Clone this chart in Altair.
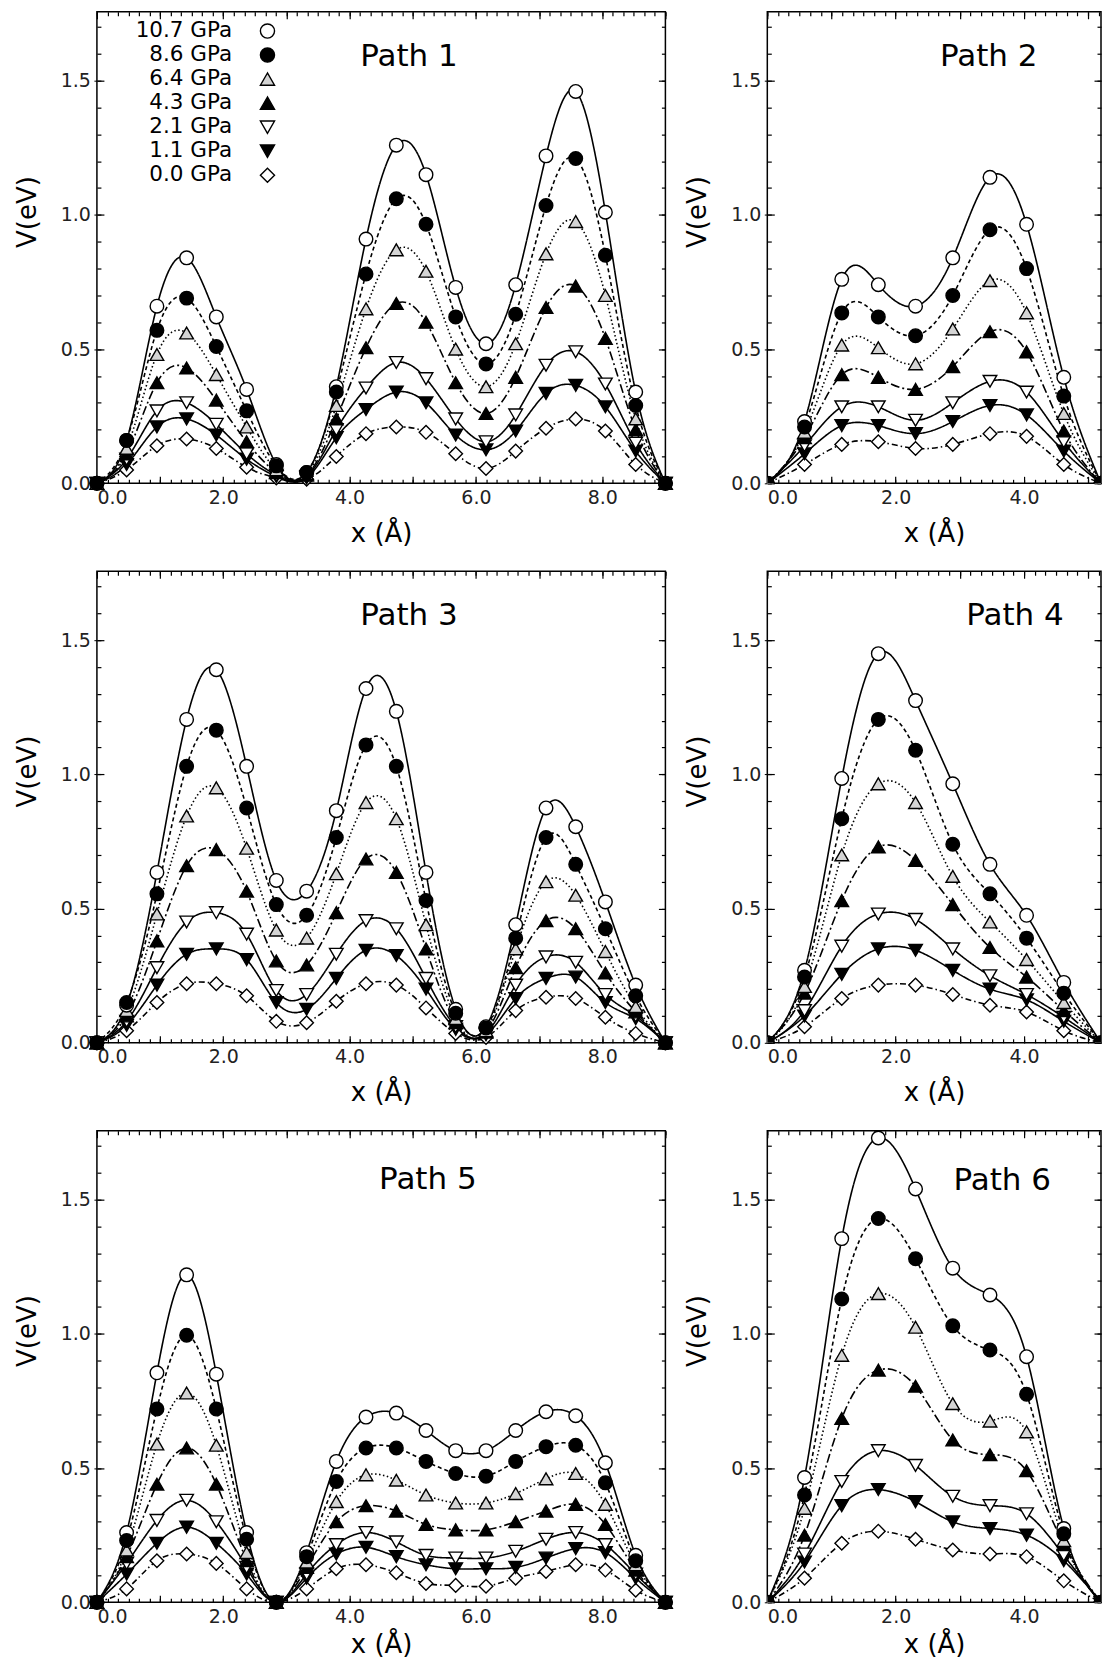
import altair as alt
import pandas as pd

FONT = "DejaVu Sans"
YMAX = 1.757

series = ["10.7 GPa", "8.6 GPa", "6.4 GPa", "4.3 GPa", "2.1 GPa", "1.1 GPa", "0.0 GPa"]
shapes = ["circle", "circle", "triangle-up", "triangle-up", "triangle-down", "triangle-down", "diamond"]
fills = ["white", "black", "#d4d4d4", "black", "white", "black", "white"]
dashes = [[1, 0], [4, 3], [1.5, 2.5], [9, 3, 2, 3], [1, 0], [1, 0], [6, 3, 1.5, 3]]
draw_order = ["0.0 GPa", "1.1 GPa", "2.1 GPa", "4.3 GPa", "6.4 GPa", "10.7 GPa", "8.6 GPa"]

x_long = [0.0, 0.47, 0.95, 1.42, 1.89, 2.37, 2.84, 3.32, 3.79, 4.26,
          4.74, 5.21, 5.68, 6.16, 6.63, 7.11, 7.58, 8.05, 8.53, 9.0]
x_short = [0.0, 0.58, 1.16, 1.73, 2.31, 2.89, 3.47, 4.04, 4.62, 5.2]

path1 = {
    "10.7 GPa": [0, 0.16, 0.66, 0.84, 0.62, 0.35, 0.07, 0.04, 0.36, 0.91, 1.26, 1.15, 0.73, 0.52, 0.74, 1.22, 1.46, 1.01, 0.34, 0],
    "8.6 GPa": [0, 0.16, 0.57, 0.69, 0.51, 0.27, 0.065, 0.04, 0.34, 0.78, 1.06, 0.965, 0.62, 0.445, 0.63, 1.035, 1.21, 0.85, 0.29, 0],
    "6.4 GPa": [0, 0.13, 0.48, 0.56, 0.405, 0.21, 0.05, 0.035, 0.29, 0.65, 0.87, 0.79, 0.50, 0.36, 0.52, 0.855, 0.975, 0.70, 0.24, 0],
    "4.3 GPa": [0, 0.11, 0.375, 0.43, 0.31, 0.155, 0.04, 0.03, 0.24, 0.505, 0.67, 0.60, 0.375, 0.26, 0.395, 0.655, 0.735, 0.54, 0.20, 0],
    "2.1 GPa": [0, 0.09, 0.27, 0.30, 0.22, 0.11, 0.03, 0.025, 0.20, 0.355, 0.45, 0.39, 0.24, 0.155, 0.255, 0.44, 0.49, 0.37, 0.15, 0],
    "1.1 GPa": [0, 0.07, 0.21, 0.24, 0.18, 0.09, 0.025, 0.02, 0.17, 0.275, 0.34, 0.30, 0.18, 0.125, 0.195, 0.335, 0.365, 0.285, 0.12, 0],
    "0.0 GPa": [0, 0.05, 0.14, 0.165, 0.13, 0.06, 0.02, 0.015, 0.10, 0.185, 0.21, 0.19, 0.11, 0.055, 0.12, 0.205, 0.24, 0.195, 0.07, 0],
}
path2 = {
    "10.7 GPa": [0, 0.23, 0.76, 0.74, 0.66, 0.84, 1.14, 0.965, 0.395, 0],
    "8.6 GPa": [0, 0.21, 0.635, 0.62, 0.55, 0.70, 0.945, 0.80, 0.325, 0],
    "6.4 GPa": [0, 0.19, 0.515, 0.505, 0.445, 0.575, 0.755, 0.635, 0.26, 0],
    "4.3 GPa": [0, 0.17, 0.405, 0.395, 0.35, 0.435, 0.565, 0.49, 0.195, 0],
    "2.1 GPa": [0, 0.14, 0.285, 0.285, 0.235, 0.30, 0.38, 0.34, 0.155, 0],
    "1.1 GPa": [0, 0.11, 0.215, 0.215, 0.185, 0.23, 0.29, 0.255, 0.12, 0],
    "0.0 GPa": [0, 0.07, 0.145, 0.155, 0.13, 0.145, 0.185, 0.175, 0.07, 0],
}
path3 = {
    "10.7 GPa": [0, 0.14, 0.635, 1.205, 1.39, 1.03, 0.605, 0.565, 0.865, 1.32, 1.235, 0.635, 0.125, 0.06, 0.44, 0.875, 0.805, 0.525, 0.215, 0],
    "8.6 GPa": [0, 0.15, 0.555, 1.03, 1.165, 0.875, 0.515, 0.475, 0.765, 1.11, 1.03, 0.53, 0.11, 0.055, 0.39, 0.765, 0.665, 0.425, 0.175, 0],
    "6.4 GPa": [0, 0.12, 0.48, 0.845, 0.95, 0.725, 0.42, 0.39, 0.63, 0.895, 0.835, 0.44, 0.09, 0.045, 0.35, 0.60, 0.55, 0.34, 0.135, 0],
    "4.3 GPa": [0, 0.10, 0.38, 0.66, 0.72, 0.565, 0.305, 0.29, 0.485, 0.685, 0.635, 0.35, 0.075, 0.04, 0.28, 0.455, 0.425, 0.26, 0.115, 0],
    "2.1 GPa": [0, 0.08, 0.28, 0.45, 0.485, 0.405, 0.195, 0.18, 0.33, 0.455, 0.425, 0.24, 0.06, 0.035, 0.215, 0.32, 0.30, 0.18, 0.10, 0],
    "1.1 GPa": [0, 0.065, 0.215, 0.33, 0.35, 0.31, 0.15, 0.125, 0.24, 0.345, 0.325, 0.20, 0.05, 0.03, 0.165, 0.24, 0.245, 0.15, 0.09, 0],
    "0.0 GPa": [0, 0.045, 0.15, 0.22, 0.22, 0.175, 0.08, 0.075, 0.155, 0.22, 0.215, 0.13, 0.035, 0.02, 0.12, 0.17, 0.165, 0.095, 0.035, 0],
}
path4 = {
    "10.7 GPa": [0, 0.27, 0.985, 1.45, 1.275, 0.965, 0.665, 0.475, 0.225, 0],
    "8.6 GPa": [0, 0.245, 0.835, 1.205, 1.09, 0.74, 0.555, 0.39, 0.185, 0],
    "6.4 GPa": [0, 0.21, 0.70, 0.965, 0.895, 0.62, 0.45, 0.31, 0.15, 0],
    "4.3 GPa": [0, 0.185, 0.53, 0.73, 0.68, 0.515, 0.355, 0.245, 0.12, 0],
    "2.1 GPa": [0, 0.12, 0.36, 0.48, 0.46, 0.35, 0.25, 0.18, 0.095, 0],
    "1.1 GPa": [0, 0.10, 0.255, 0.35, 0.345, 0.27, 0.20, 0.16, 0.08, 0],
    "0.0 GPa": [0, 0.06, 0.165, 0.215, 0.215, 0.18, 0.14, 0.115, 0.045, 0],
}
path5 = {
    "10.7 GPa": [0, 0.26, 0.855, 1.22, 0.85, 0.26, 0, 0.185, 0.525, 0.69, 0.705, 0.64, 0.565, 0.565, 0.64, 0.71, 0.695, 0.52, 0.175, 0],
    "8.6 GPa": [0, 0.23, 0.72, 0.995, 0.72, 0.235, 0, 0.17, 0.45, 0.575, 0.575, 0.525, 0.48, 0.47, 0.525, 0.58, 0.585, 0.445, 0.155, 0],
    "6.4 GPa": [0, 0.195, 0.59, 0.78, 0.585, 0.185, 0, 0.15, 0.375, 0.475, 0.455, 0.40, 0.37, 0.37, 0.405, 0.46, 0.48, 0.365, 0.14, 0],
    "4.3 GPa": [0, 0.17, 0.44, 0.575, 0.44, 0.155, 0, 0.13, 0.30, 0.36, 0.34, 0.29, 0.27, 0.27, 0.30, 0.34, 0.365, 0.29, 0.12, 0],
    "2.1 GPa": [0, 0.145, 0.305, 0.38, 0.30, 0.13, 0, 0.105, 0.215, 0.26, 0.225, 0.175, 0.165, 0.165, 0.19, 0.235, 0.26, 0.215, 0.105, 0],
    "1.1 GPa": [0, 0.105, 0.22, 0.28, 0.22, 0.105, 0, 0.09, 0.18, 0.205, 0.17, 0.14, 0.125, 0.125, 0.13, 0.165, 0.20, 0.185, 0.09, 0],
    "0.0 GPa": [0, 0.05, 0.155, 0.18, 0.145, 0.05, 0, 0.05, 0.125, 0.14, 0.11, 0.07, 0.063, 0.06, 0.09, 0.115, 0.14, 0.12, 0.045, 0],
}
path6 = {
    "10.7 GPa": [0, 0.465, 1.355, 1.73, 1.54, 1.245, 1.145, 0.915, 0.275, 0],
    "8.6 GPa": [0, 0.40, 1.13, 1.43, 1.28, 1.03, 0.94, 0.775, 0.255, 0],
    "6.4 GPa": [0, 0.35, 0.92, 1.15, 1.025, 0.74, 0.675, 0.635, 0.23, 0],
    "4.3 GPa": [0, 0.25, 0.685, 0.865, 0.805, 0.605, 0.55, 0.49, 0.215, 0],
    "2.1 GPa": [0, 0.18, 0.45, 0.565, 0.51, 0.395, 0.36, 0.33, 0.175, 0],
    "1.1 GPa": [0, 0.15, 0.36, 0.42, 0.375, 0.30, 0.275, 0.25, 0.155, 0],
    "0.0 GPa": [0, 0.09, 0.22, 0.265, 0.235, 0.195, 0.18, 0.17, 0.08, 0],
}

panel_titles = ["Path 1", "Path 2", "Path 3", "Path 4", "Path 5", "Path 6"]
title_x = [4.94, 3.45, 4.94, 3.86, 5.24, 3.66]
title_y = [1.587, 1.587, 1.59, 1.59, 1.575, 1.57]

x_labels_long = [0, 2, 4, 6, 8]
x_labels_short = [0, 2, 4]
y_labels = [0, 0.5, 1.0, 1.5]

# legend placement inside Path 1 (data units of that panel)
LEG_LABEL_X = 2.14
LEG_SYMBOL_X = 2.70
LEG_TOP = 1.685
LEG_STEP = 0.0895

W_LONG, W_SHORT, H = 569, 334, 472


def build_df(xs, vals):
    rows = []
    for s in draw_order:
        for x, v in zip(xs, vals[s]):
            rows.append({"x": x, "V": v, "series": s})
    return pd.DataFrame(rows)


def tick_axis(orient, values, size):
    return alt.Axis(orient=orient, values=values, labels=False, title=None,
                    domain=False, ticks=True, tickSize=size, offset=-size,
                    tickColor="black", tickWidth=1.2, grid=False)


shape_scale = alt.Scale(domain=series, range=shapes)
fill_scale = alt.Scale(domain=series, range=fills)
dash_scale = alt.Scale(domain=series, range=dashes)


def make_panel(i, xs, vals, width, xmax, xlabels, legend, xtitle_pad, clip_pts):
    df = build_df(xs, vals)
    xscale = alt.Scale(domain=[0, xmax], nice=False, zero=False)
    yscale = alt.Scale(domain=[0, YMAX], nice=False)
    nx = int(round(xmax * 6))
    x_major = [float(k) for k in range(0, int(xmax) + 1)]
    x_minor = [k / 6 for k in range(0, nx + 1)]
    y_major = [0, 0.5, 1.0, 1.5]
    y_minor = [k / 10 for k in range(0, 18)]

    xlab = alt.Axis(orient="bottom", values=xlabels, format=".1f", title="x (Å)",
                    domain=False, ticks=False, tickSize=0, labelPadding=5,
                    titlePadding=xtitle_pad, grid=False)
    ylab = alt.Axis(orient="left", values=y_labels, format=".1f", title="V(eV)",
                    domain=False, ticks=True, tickSize=3, tickColor="black",
                    labelPadding=3.5, titlePadding=20, titleY=200, grid=False)

    base = alt.Chart(df)
    lines = base.mark_line(interpolate="natural", color="black", strokeWidth=1.6,
                           clip=True).encode(
        x=alt.X("x:Q", scale=xscale, axis=xlab),
        y=alt.Y("V:Q", scale=yscale, axis=ylab),
        strokeDash=alt.StrokeDash("series:N", scale=dash_scale, legend=None),
    )
    pts = base.mark_point(stroke="black", strokeWidth=1.4, size=185, opacity=1,
                          fillOpacity=1, clip=clip_pts).encode(
        x=alt.X("x:Q", scale=xscale, axis=tick_axis("bottom", x_major, 7)),
        y=alt.Y("V:Q", scale=yscale, axis=tick_axis("left", y_major, 7)),
        shape=alt.Shape("series:N", scale=shape_scale, legend=None),
        fill=alt.Fill("series:N", scale=fill_scale, legend=None),
    )
    tdf = pd.DataFrame({"x": [title_x[i]], "V": [title_y[i]], "t": [panel_titles[i]]})
    txt = alt.Chart(tdf).mark_text(font=FONT, fontSize=31, align="center",
                                   baseline="middle", color="black").encode(
        x=alt.X("x:Q", scale=xscale, axis=tick_axis("top", x_major, 7)),
        y=alt.Y("V:Q", scale=yscale, axis=tick_axis("right", y_major, 7)),
        text="t:N",
    )
    m1 = base.mark_point(opacity=0, clip=True).encode(
        x=alt.X("x:Q", scale=xscale, axis=tick_axis("bottom", x_minor, 4)),
        y=alt.Y("V:Q", scale=yscale, axis=tick_axis("left", y_minor, 4)),
    )
    m2 = base.mark_point(opacity=0, clip=True).encode(
        x=alt.X("x:Q", scale=xscale, axis=tick_axis("top", x_minor, 4)),
        y=alt.Y("V:Q", scale=yscale, axis=tick_axis("right", y_minor, 4)),
    )
    layers = [lines, pts, txt, m1, m2]
    if legend:
        ldf = pd.DataFrame({
            "series": series,
            "lx": [LEG_LABEL_X] * len(series),
            "sx": [LEG_SYMBOL_X] * len(series),
            "ly": [LEG_TOP - k * LEG_STEP for k in range(len(series))],
        })
        lbase = alt.Chart(ldf)
        ltext = lbase.mark_text(font=FONT, fontSize=21.5, align="right",
                                baseline="middle", color="black").encode(
            x=alt.X("lx:Q", scale=xscale, axis=None),
            y=alt.Y("ly:Q", scale=yscale, axis=None),
            text="series:N",
        )
        lsym = lbase.mark_point(stroke="black", strokeWidth=1.4, size=200,
                                opacity=1, fillOpacity=1).encode(
            x=alt.X("sx:Q", scale=xscale, axis=None),
            y=alt.Y("ly:Q", scale=yscale, axis=None),
            shape=alt.Shape("series:N", scale=shape_scale, legend=None),
            fill=alt.Fill("series:N", scale=fill_scale, legend=None),
        )
        layers += [ltext, lsym]
    return alt.layer(*layers).resolve_axis(
        x="independent", y="independent").properties(width=width, height=H)


p1 = make_panel(0, x_long, path1, W_LONG, 9.0, x_labels_long, True, 13, False)
p2 = make_panel(1, x_short, path2, W_SHORT, 5.2, x_labels_short, False, 13, True)
p3 = make_panel(2, x_long, path3, W_LONG, 9.0, x_labels_long, False, 13, False)
p4 = make_panel(3, x_short, path4, W_SHORT, 5.2, x_labels_short, False, 13, True)
p5 = make_panel(4, x_long, path5, W_LONG, 9.0, x_labels_long, False, 5, False)
p6 = make_panel(5, x_short, path6, W_SHORT, 5.2, x_labels_short, False, 5, True)

chart = alt.concat(p1, p2, p3, p4, p5, p6, columns=2,
                   spacing={"row": 88, "column": 102},
                   bounds="flush", align="each").properties(
    padding={"left": 5, "top": 1, "right": 0, "bottom": 0}
).configure_view(
    stroke="black", strokeWidth=1.5
).configure_axis(
    grid=False, labelFont=FONT, titleFont=FONT, labelFontSize=19,
    titleFontSize=26, labelColor="#222", titleColor="black",
    titleFontWeight="normal"
)

chart.save("out.html", embed_options={"renderer": "svg", "actions": False})
